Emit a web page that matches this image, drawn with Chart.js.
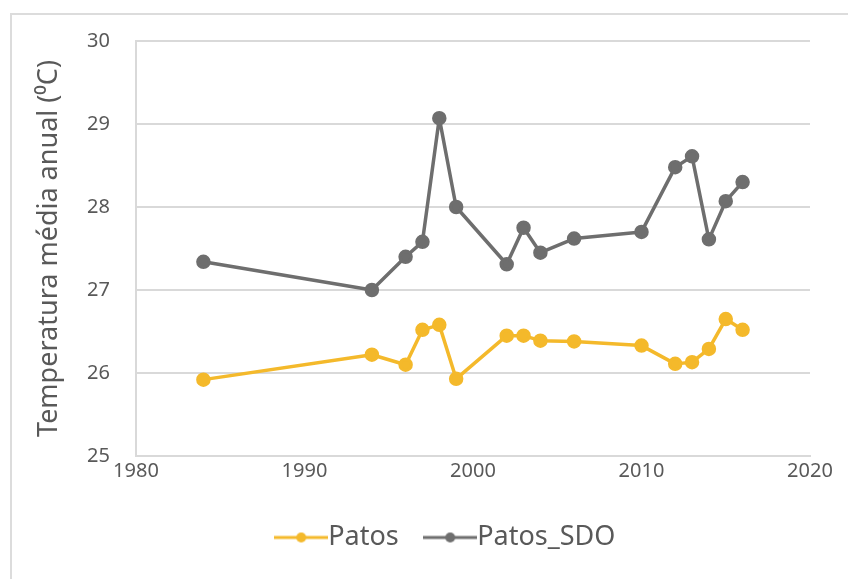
<!DOCTYPE html>
<html>
<head>
<meta charset="utf-8">
<script src="https://cdn.jsdelivr.net/npm/chart.js@4/dist/chart.umd.min.js"></script>
<style>
  html, body { margin: 0; padding: 0; background: #fff; overflow: hidden; }
  #wrap { position: absolute; left: 0; top: 0; width: 848px; height: 579px; }
  #frame { position: absolute; left: 10px; top: 13px; width: 900px; height: 700px;
           border-left: 2px solid #dcdcdc; border-top: 2px solid #dcdcdc; }
  #c { position: absolute; left: 0; top: 0; }
</style>
</head>
<body>
<div id="wrap">
  <div id="frame"></div>
  <canvas id="c" width="848" height="579"></canvas>
</div>
<script>
// Annual mean temperature, Patos station vs. Patos_SDO
const years    = [1984, 1994, 1996, 1997, 1998, 1999, 2002, 2003, 2004, 2006, 2010, 2012, 2013, 2014, 2015, 2016];
const patos    = [25.92, 26.22, 26.10, 26.52, 26.58, 25.93, 26.45, 26.45, 26.39, 26.38, 26.33, 26.11, 26.13, 26.29, 26.65, 26.52];
const patosSDO = [27.34, 27.00, 27.40, 27.58, 29.07, 28.00, 27.31, 27.75, 27.45, 27.62, 27.70, 28.48, 28.61, 27.61, 28.07, 28.30];
const seriesNames = ['Patos', 'Patos_SDO'];
const xTicks = [1980, 1990, 2000, 2010, 2020];
const yTicks = [25, 26, 27, 28, 29, 30];
const yTitle = 'Temperatura média anual (⁰C)';

const COLORS = ['#F4B92B', '#6E6E6E'];
const TEXT = '#595959';
const GRID = '#d9d9d9';
const FONT = "'Noto Sans', 'Open Sans', sans-serif";

function pairs(xs, ys) { return xs.map((x, i) => ({ x: x, y: ys[i] })); }

// legend swatch: short line with a dot in the middle
function swatch(color) {
  const c = document.createElement('canvas');
  c.width = 54; c.height = 14;
  const g = c.getContext('2d');
  g.strokeStyle = color; g.lineWidth = 3;
  g.beginPath(); g.moveTo(0, 7); g.lineTo(54, 7); g.stroke();
  g.fillStyle = color;
  g.beginPath(); g.arc(27, 7, 5, 0, Math.PI * 2); g.fill();
  return c;
}

const lineStyle = {
  borderWidth: 3.5, borderJoinStyle: 'round', borderCapStyle: 'round',
  pointRadius: 5.5, pointHoverRadius: 5.5, tension: 0
};

const chart = new Chart(document.getElementById('c'), {
  type: 'line',
  data: {
    datasets: [
      Object.assign({ label: seriesNames[0], data: pairs(years, patos),
        borderColor: COLORS[0], backgroundColor: COLORS[0] }, lineStyle),
      Object.assign({ label: seriesNames[1], data: pairs(years, patosSDO),
        borderColor: COLORS[1], backgroundColor: COLORS[1] }, lineStyle)
    ]
  },
  options: {
    responsive: false,
    animation: false,
    layout: { padding: { top: 41, right: 22, bottom: 18, left: 77 } },
    plugins: {
      tooltip: { enabled: false },
      legend: {
        position: 'bottom',
        labels: {
          usePointStyle: true,
          pointStyleWidth: 27,
          padding: 38,
          color: TEXT,
          font: { family: FONT, size: 27 },
          generateLabels: (ch) => ch.data.datasets.map((ds, i) => ({
            text: ds.label,
            fontColor: TEXT,
            pointStyle: swatch(COLORS[i]),
            strokeStyle: COLORS[i],
            fillStyle: COLORS[i],
            lineWidth: 0,
            hidden: false,
            datasetIndex: i
          }))
        }
      }
    },
    scales: {
      x: {
        type: 'linear',
        min: xTicks[0], max: xTicks[xTicks.length - 1],
        afterBuildTicks: (s) => { s.ticks = xTicks.map(v => ({ value: v })); },
        afterFit: (s) => { s.height = 30; },
        grid: { display: false, drawTicks: false },
        border: { display: true, color: GRID, width: 2 },
        ticks: { color: TEXT, font: { family: FONT, size: 20 }, padding: 3,
                 callback: (v) => String(v), maxRotation: 0 }
      },
      y: {
        min: yTicks[0], max: yTicks[yTicks.length - 1],
        afterBuildTicks: (s) => { s.ticks = yTicks.map(v => ({ value: v })); },
        afterFit: (s) => { s.width = 59; },
        grid: { color: GRID, lineWidth: 2, drawTicks: false },
        border: { display: true, color: GRID, width: 2 },
        ticks: { color: TEXT, font: { family: FONT, size: 20 }, padding: 26,
                 callback: (v) => String(v) },
        title: { display: true, text: yTitle, color: TEXT,
                 font: { family: FONT, size: 27 }, padding: { top: -44, bottom: 0 } }
      },
      // blank right-hand margin strip
      yRight: {
        position: 'right',
        afterFit: (s) => { s.width = 16; },
        grid: { display: false, drawTicks: false },
        border: { display: false },
        ticks: { display: false }
      }
    }
  }
});
</script>
</body>
</html>
